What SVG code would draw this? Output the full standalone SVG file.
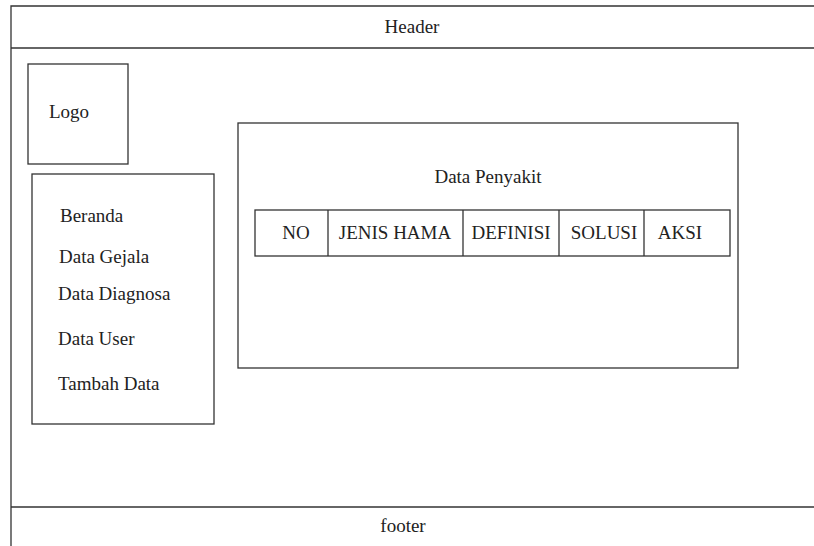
<svg xmlns="http://www.w3.org/2000/svg" width="814" height="546" viewBox="0 0 814 546">
  <style>
    .box { fill: none; stroke: #333; stroke-width: 1.3; }
    .line { stroke: #333; stroke-width: 1.3; }
    text { font-size: 19px; fill: #222; }
    .c { text-anchor: middle; }
  </style>
  <rect width="814" height="546" fill="#fff"/>

  <!-- page frame -->
  <g id="frame">
    <path class="box" d="M 820 6 H 11 V 552"/>
  </g>

  <g font-family="Liberation Serif, DejaVu Serif, Times New Roman, serif">
    <!-- header band -->
    <g id="header">
      <line class="line" x1="11" y1="48" x2="820" y2="48"/>
      <text class="c" x="412" y="33">Header</text>
    </g>

    <!-- logo -->
    <g id="logo">
      <rect class="box" x="28" y="64" width="100" height="100"/>
      <text x="49" y="118">Logo</text>
    </g>

    <!-- navigation menu -->
    <g id="menu">
      <rect class="box" x="32" y="174" width="182" height="250"/>
      <text x="60" y="222">Beranda</text>
      <text x="59" y="263">Data Gejala</text>
      <text x="58" y="300">Data Diagnosa</text>
      <text x="58" y="345">Data User</text>
      <text x="58" y="390">Tambah Data</text>
    </g>

    <!-- content panel -->
    <g id="content">
      <rect class="box" x="238" y="123" width="500" height="245"/>
      <text class="c" x="488" y="183">Data Penyakit</text>
    </g>

    <!-- data table -->
    <g id="table">
      <rect class="box" x="255" y="210" width="475" height="46"/>
      <line class="line" x1="328" y1="210" x2="328" y2="256"/>
      <line class="line" x1="463" y1="210" x2="463" y2="256"/>
      <line class="line" x1="559" y1="210" x2="559" y2="256"/>
      <line class="line" x1="644" y1="210" x2="644" y2="256"/>
      <text class="c" x="296" y="239">NO</text>
      <text class="c" x="395" y="239">JENIS HAMA</text>
      <text class="c" x="511" y="239">DEFINISI</text>
      <text class="c" x="604" y="239">SOLUSI</text>
      <text class="c" x="680" y="239">AKSI</text>
    </g>

    <!-- footer band -->
    <g id="footer">
      <line class="line" x1="11" y1="507" x2="820" y2="507"/>
      <text class="c" x="403" y="532">footer</text>
    </g>
  </g>
</svg>
